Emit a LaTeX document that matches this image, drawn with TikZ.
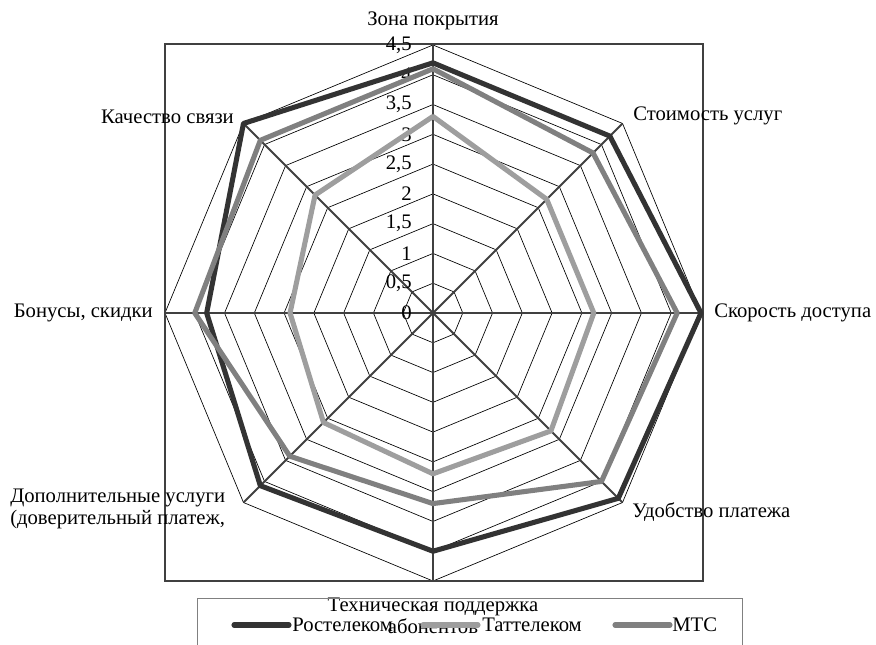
\documentclass[tikz,border=0pt]{standalone}
\usepackage{fontspec}
\setmainfont{Liberation Serif}
\usetikzlibrary{calc}
\definecolor{rt_dark}{RGB}{51, 51, 51}
\definecolor{tt_light}{RGB}{158, 158, 158}
\definecolor{mts_grey}{RGB}{128, 128, 128}
\definecolor{ax_grey}{RGB}{64, 64, 64}
\tikzstyle{lbl}=[inner sep=0pt,font=\fontsize{15.5}{16.5}\selectfont]
\tikzstyle{tick}=[lbl,anchor=east]
\tikzstyle{web}=[draw=black,line width=0.5pt]
\tikzstyle{spoke}=[draw=ax_grey,line width=1.4pt]
\tikzstyle{series}=[line width=3.8pt,line join=round]
\tikzstyle{key}=[line width=3.8pt,line cap=round]
\tikzstyle{none}=[]
\def\u{59.56}

\begin{document}
\begin{tikzpicture}[x=0.75pt,y=0.75pt]
            \useasboundingbox (-433, -332) rectangle (443, 313);
            % web, 0.5 steps
            \foreach \i in {1,...,9}
              \draw [style=web] (90:{\i*\u/2}) -- (45:{\i*\u/2}) -- (0:{\i*\u/2}) -- (-45:{\i*\u/2})
                -- (-90:{\i*\u/2}) -- (-135:{\i*\u/2}) -- (180:{\i*\u/2}) -- (135:{\i*\u/2}) -- cycle;
            \foreach \k in {0,...,7}
              \draw [style=spoke] (0, 0) -- (90-45*\k:{4.5*\u});
            \draw [draw=ax_grey, line width=1.5pt] (-268, 269) rectangle (270, -268);
            % ticks
            \node [style=tick] (t0) at (-21, 0) {0};
            \node [style=tick] (t1) at (-21, {\u/2}) {0,5};
            \node [style=tick] (t2) at (-21, {\u}) {1};
            \node [style=tick] (t3) at (-21, {1.5*\u}) {1,5};
            \node [style=tick] (t4) at (-21, {2*\u}) {2};
            \node [style=tick] (t5) at (-21, {2.5*\u}) {2,5};
            \node [style=tick] (t6) at (-21, {3*\u}) {3};
            \node [style=tick] (t7) at (-21, {3.5*\u}) {3,5};
            \node [style=tick] (t8) at (-21, {4*\u}) {4};
            \node [style=tick] (t9) at (-21, {4.5*\u}) {4,5};
            % series
            \draw [style=series, rt_dark] (90:{4.2*\u}) -- (45:{4.2*\u}) -- (0:{4.5*\u}) -- (-45:{4.4*\u})
              -- (-90:{4.0*\u}) -- (-135:{4.1*\u}) -- (180:{3.8*\u}) -- (135:{4.5*\u}) -- cycle;
            \draw [style=series, tt_light] (90:{3.3*\u}) -- (45:{2.7*\u}) -- (0:{2.7*\u}) -- (-45:{2.8*\u})
              -- (-90:{2.7*\u}) -- (-135:{2.6*\u}) -- (180:{2.4*\u}) -- (135:{2.8*\u}) -- cycle;
            \draw [style=series, mts_grey] (90:{4.1*\u}) -- (45:{3.8*\u}) -- (0:{4.1*\u}) -- (-45:{4.0*\u})
              -- (-90:{3.2*\u}) -- (-135:{3.4*\u}) -- (180:{4.0*\u}) -- (135:{4.1*\u}) -- cycle;
            % categories
            \node [style=lbl] (0) at (0, 292) {Зона покрытия};
            \node [style=lbl, anchor=west] (1) at (200, 197) {Стоимость услуг};
            \node [style=lbl, anchor=west] (2) at (281, 0) {Скорость доступа};
            \node [style=lbl, anchor=west] (3) at (199, -199) {Удобство платежа};
            \node [style=lbl, align=center, anchor=north] (4) at (0, -285) {Техническая поддержка\\абонентов};
            \node [style=lbl, align=left, anchor=west] (5) at (-423, -196) {Дополнительные услуги\\(доверительный платеж,};
            \node [style=lbl, anchor=east] (6) at (-280, 0) {Бонусы, скидки};
            \node [style=lbl, anchor=east] (7) at (-199, 196) {Качество связи};
            % legend
            \draw [draw=mts_grey, line width=0.75pt] (-235, -286) rectangle (310, -345);
            \coordinate (k0a) at (-199, -312);
            \coordinate (k0b) at (-144, -312);
            \coordinate (k1a) at (-10, -312);
            \coordinate (k1b) at (45, -312);
            \coordinate (k2a) at (182, -312);
            \coordinate (k2b) at (237, -312);
            \draw [style=key, rt_dark] (k0a) -- (k0b);
            \draw [style=key, tt_light] (k1a) -- (k1b);
            \draw [style=key, mts_grey] (k2a) -- (k2b);
            \node [style=lbl, anchor=west] (10) at (-141, -312) {Ростелеком};
            \node [style=lbl, anchor=west] (11) at (49, -312) {Таттелеком};
            \node [style=lbl, anchor=west] (12) at (239, -312) {МТС};
    \end{tikzpicture}
\end{document}
